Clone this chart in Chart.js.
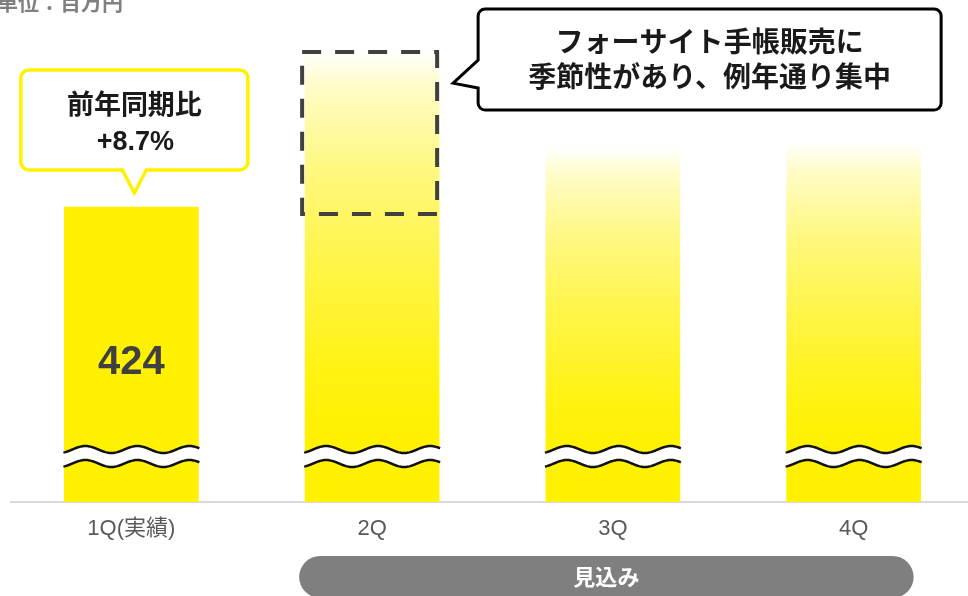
<!DOCTYPE html>
<html><head><meta charset="utf-8">
<script src="https://cdn.jsdelivr.net/npm/chart.js@4.4.1/dist/chart.umd.min.js"></script>
<style>
html,body{margin:0;padding:0;overflow:hidden;background:#fff;width:968px;height:596px}
#wrap{position:absolute;left:0;top:0;width:974px;height:596px}
</style></head><body>
<div id="wrap"><canvas id="c"></canvas></div>
<script>
// ---- data ----
const categories = ['1Q(実績)', '2Q', '3Q', '4Q'];
const salesValues = [424, 648, 510, 516];
const valueLabels = ['424', '', '', ''];
const isActual = [true, false, false, false];
const unitLabel = '単位：百万円';
const callout1Lines = ['前年同期比', '+8.7%'];
const callout2Lines = ['フォーサイト手帳販売に', '季節性があり、例年通り集中'];
const forecastLabel = '見込み';
const Y_MAX = 720;
const DASH_BOTTOM_VALUE = 414;

const YELLOW = '#FFF100';
const FONT = '"Liberation Sans", "Noto Sans CJK JP", sans-serif';

function mix(t){
  const g = Math.round(255 - 14*t), b = Math.round(255*(1-t));
  return 'rgb(255,' + g + ',' + b + ')';
}
const gradStops = [[0,0],[0.08,0.22],[0.26,0.5],[0.45,0.7],[0.7,0.92],[0.85,1],[1,1]];

function barColor(ctx){
  if (ctx.type !== 'data') return YELLOW;
  if (isActual[ctx.dataIndex]) return YELLOW;
  const chart = ctx.chart;
  if (!chart.chartArea || !chart.scales.y) return YELLOW;
  const ys = chart.scales.y;
  const top = ys.getPixelForValue(ctx.raw), bottom = ys.getPixelForValue(0);
  const g = chart.ctx.createLinearGradient(0, top, 0, bottom);
  gradStops.forEach(s => g.addColorStop(s[0], mix(s[1])));
  return g;
}

function rrPath(ctx, l, t, r, b, rad){
  ctx.beginPath();
  ctx.moveTo(l+rad, t);
  ctx.lineTo(r-rad, t); ctx.arcTo(r, t, r, t+rad, rad);
  ctx.lineTo(r, b-rad); ctx.arcTo(r, b, r-rad, b, rad);
  ctx.lineTo(l+rad, b); ctx.arcTo(l, b, l, b-rad, rad);
  ctx.lineTo(l, t+rad); ctx.arcTo(l, t, l+rad, t, rad);
  ctx.closePath();
}

function waveY(x, left, c){
  return c - 3.5*Math.cos(2*Math.PI*(x-left-22)/52);
}

const overlay = {
  id: 'overlay',
  afterDatasetsDraw(chart){
    const ctx = chart.ctx;
    const ys = chart.scales.y, xs = chart.scales.x;
    const base = ys.getPixelForValue(0);
    const bars = chart.getDatasetMeta(0).data;
    ctx.save();
    // wave breaks
    bars.forEach(bar => {
      const p = bar.getProps(['x','width'], true);
      const left = p.x - p.width/2 - 1, right = p.x + p.width/2 + 1;
      const c1 = base - 52.5, c2 = base - 38.5;
      ctx.beginPath();
      for (let x = left; x <= right; x += 1) {
        const y = waveY(x, left, c1);
        if (x === left) ctx.moveTo(x, y); else ctx.lineTo(x, y);
      }
      for (let x = right; x >= left; x -= 1) ctx.lineTo(x, waveY(x, left, c2));
      ctx.closePath();
      ctx.fillStyle = '#ffffff';
      ctx.fill();
      ctx.strokeStyle = '#111';
      ctx.lineWidth = 2.5;
      [c1, c2].forEach(c => {
        ctx.beginPath();
        for (let x = left; x <= right; x += 1) {
          const y = waveY(x, left, c);
          if (x === left) ctx.moveTo(x, y); else ctx.lineTo(x, y);
        }
        ctx.stroke();
      });
    });
    // value labels
    bars.forEach((bar, i) => {
      if (!valueLabels[i]) return;
      const p = bar.getProps(['x','y'], true);
      ctx.fillStyle = '#404040';
      ctx.font = 'bold 40px ' + FONT;
      ctx.textAlign = 'center'; ctx.textBaseline = 'middle';
      ctx.fillText(valueLabels[i], p.x, (p.y + base)/2 + 8);
    });
    // dashed box on 2Q
    const b2 = bars[1].getProps(['x','y','width'], true);
    const dl = b2.x - b2.width/2 - 3, dr = b2.x + b2.width/2 - 2;
    const dt = b2.y + 1, db = ys.getPixelForValue(DASH_BOTTOM_VALUE);
    ctx.strokeStyle = '#404040';
    ctx.lineWidth = 4;
    ctx.setLineDash([19, 14]);
    ctx.strokeRect(dl, dt, dr - dl, db - dt);
    ctx.setLineDash([]);

    // callout 1 (yellow border)
    const b1 = bars[0].getProps(['x','y','width'], true);
    const cx = b1.x + 3;
    const cb = b1.y - 37, ct = cb - 100, cl = cx - 113.5, cr = cx + 113.5, rad = 8;
    const tipY = b1.y - 14;
    ctx.beginPath();
    ctx.moveTo(cl+rad, ct);
    ctx.lineTo(cr-rad, ct); ctx.arcTo(cr, ct, cr, ct+rad, rad);
    ctx.lineTo(cr, cb-rad); ctx.arcTo(cr, cb, cr-rad, cb, rad);
    ctx.lineTo(cx+12, cb); ctx.lineTo(cx, tipY); ctx.lineTo(cx-12, cb);
    ctx.lineTo(cl+rad, cb); ctx.arcTo(cl, cb, cl, cb-rad, rad);
    ctx.lineTo(cl, ct+rad); ctx.arcTo(cl, ct, cl+rad, ct, rad);
    ctx.closePath();
    ctx.fillStyle = '#fff'; ctx.fill();
    ctx.lineJoin = 'miter';
    ctx.strokeStyle = YELLOW; ctx.lineWidth = 3.5; ctx.stroke();
    ctx.fillStyle = '#1a1a1a';
    ctx.font = 'bold 27px ' + FONT;
    ctx.textAlign = 'center'; ctx.textBaseline = 'middle';
    ctx.fillText(callout1Lines[0], cx, ct + 37);
    ctx.fillText(callout1Lines[1], cx + 1, ct + 73);

    // callout 2 (black border)
    const tipX = dr + 16, tY = dt + 31;
    const l2 = tipX + 25, r2 = l2 + 463, t2 = chart.chartArea.top + 8, bt2 = t2 + 101, rad2 = 7;
    ctx.beginPath();
    ctx.moveTo(l2+rad2, t2);
    ctx.lineTo(r2-rad2, t2); ctx.arcTo(r2, t2, r2, t2+rad2, rad2);
    ctx.lineTo(r2, bt2-rad2); ctx.arcTo(r2, bt2, r2-rad2, bt2, rad2);
    ctx.lineTo(l2+rad2, bt2); ctx.arcTo(l2, bt2, l2, bt2-rad2, rad2);
    ctx.lineTo(l2, tY + 5); ctx.lineTo(tipX, tY); ctx.lineTo(l2, tY - 23);
    ctx.lineTo(l2, t2+rad2); ctx.arcTo(l2, t2, l2+rad2, t2, rad2);
    ctx.closePath();
    ctx.fillStyle = '#fff'; ctx.fill();
    ctx.strokeStyle = '#000'; ctx.lineWidth = 3; ctx.stroke();
    ctx.fillStyle = '#1a1a1a';
    ctx.font = 'bold 28px ' + FONT;
    const c2x = (l2 + r2)/2;
    ctx.fillText(callout2Lines[0], c2x, t2 + 35);
    ctx.fillText(callout2Lines[1], c2x, t2 + 70);

    // forecast pill
    const pl = xs.getPixelForValue(1) - 73, pr = xs.getPixelForValue(3) + 60;
    const pt = base + 54, pb = pt + 42;
    rrPath(ctx, pl, pt, pr, pb, 21);
    ctx.fillStyle = '#7f7f7f'; ctx.fill();
    ctx.fillStyle = '#ffffff';
    ctx.font = 'bold 22px ' + FONT;
    ctx.fillText(forecastLabel, (pl + pr)/2, pt + 23);

    // unit label
    ctx.fillStyle = '#808080';
    ctx.font = 'bold 21px ' + FONT;
    ctx.textAlign = 'left'; ctx.textBaseline = 'alphabetic';
    ctx.fillText(unitLabel, -3, 10);
    ctx.restore();
  }
};

new Chart(document.getElementById('c'), {
  type: 'bar',
  data: {
    labels: categories,
    datasets: [{
      data: salesValues,
      backgroundColor: barColor,
      borderWidth: 0,
      barThickness: 134
    }]
  },
  options: {
    responsive: true,
    maintainAspectRatio: false,
    animation: false,
    events: [],
    layout: { padding: { left: 11, right: 0, top: 1, bottom: 0 } },
    plugins: { legend: { display: false }, tooltip: { enabled: false } },
    scales: {
      x: {
        grid: { display: false, drawTicks: false },
        border: { display: true, color: '#d9d9d9', width: 2 },
        ticks: { color: '#595959', padding: 14, font: { size: 22, family: FONT } },
        afterFit: s => { s.height = 94; }
      },
      y: { display: false, min: 0, max: Y_MAX }
    }
  },
  plugins: [overlay]
});
</script>
</body></html>
